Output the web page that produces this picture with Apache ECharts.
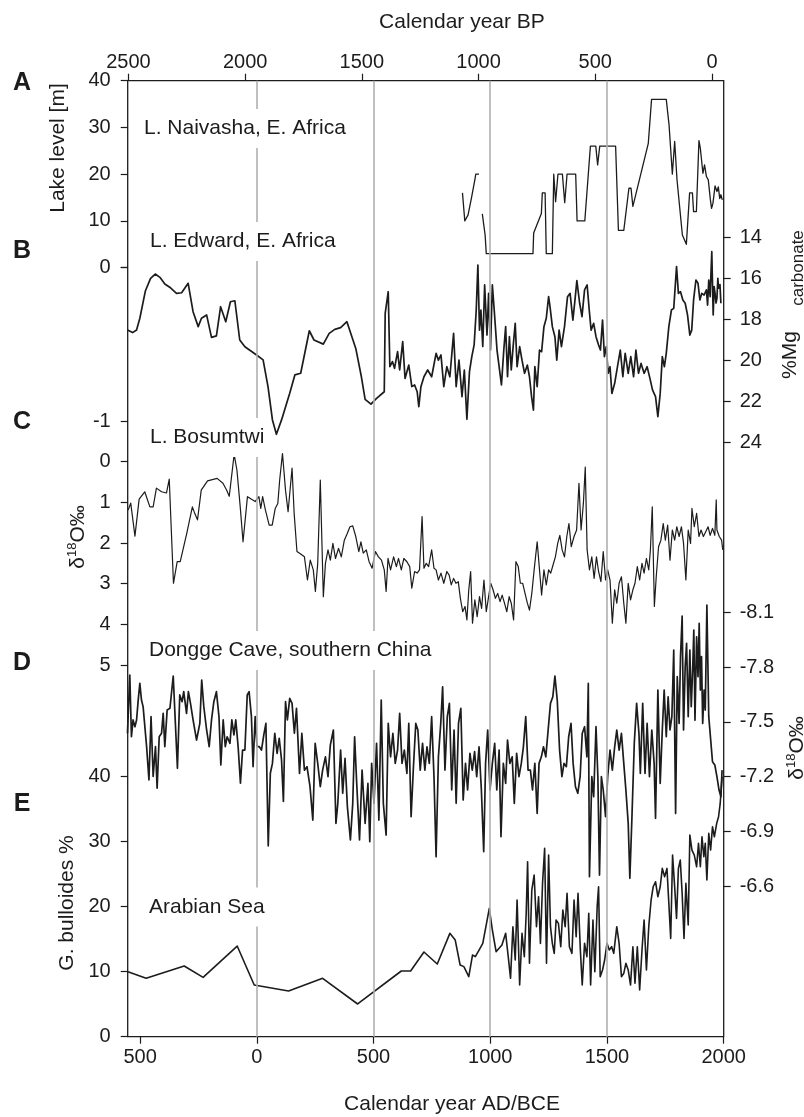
<!DOCTYPE html>
<html><head><meta charset="utf-8">
<script src="https://cdn.jsdelivr.net/npm/echarts@6/dist/echarts.min.js"></script>
<style>html,body{margin:0;padding:0;background:#fff}#c{width:804px;height:1117px}</style>
</head><body><div id="c"></div>
<script>
// ---------------- data (calendar year AD, value) ----------------
const adTicks = [-500, 0, 500, 1000, 1500, 2000];
const bpTicks = [2500, 2000, 1500, 1000, 500, 0];
const markerYears = [0, 500, 1000, 1500];

// A: L. Naivasha lake level [m]
const naivasha = [[881,16],[891,10],[905,11.3],[919,14.8],[934,18.8],[938,20],[952,20],[959,null],[966,11.5],[978,7],[983,3],[1183,3],[1186,7.4],[1219,11.6],[1223,16],[1235,16],[1240,3],[1266,3],[1272,20],[1280,14.1],[1290,20],[1309,20],[1319,13.9],[1329,20],[1366,20],[1372,10],[1405,10],[1429,26],[1452,26],[1460,22],[1469,26],[1537,26],[1549,8],[1572,8],[1594,17],[1603,17],[1611,13.1],[1677,26.6],[1691,36],[1754,36],[1766,30.5],[1780,20],[1790,27],[1800,18.8],[1823,7],[1840,5],[1848,5],[1854,16],[1866,16],[1871,12],[1883,12],[1894,27.2],[1900,25.5],[1908,25.5],[1911,20.2],[1918,22],[1926,19.5],[1934,18.8],[1943,14.5],[1948,12.7],[1954,13.8],[1963,17.5],[1971,16.3],[1977,17.3],[1983,14.8],[1988,15.6],[1994,14.5]];

// B: L. Edward %Mg carbonate
const edward = [[-554,18.51],[-532,18.64],[-515,18.51],[-501,17.94],[-477,16.60],[-455,16.00],[-435,15.79],[-415,15.95],[-394,16.27],[-373,16.43],[-344,16.73],[-322,16.70],[-294,16.24],[-273,17.62],[-251,18.35],[-237,17.94],[-215,17.78],[-194,18.87],[-173,18.80],[-155,17.38],[-133,18.11],[-113,17.14],[-94,17.09],[-73,19.00],[-51,19.33],[-1,19.73],[27,19.97],[48,21.27],[67,22.89],[84,23.59],[106,22.89],[141,21.59],[163,20.70],[188,20.62],[225,18.55],[245,19.00],[285,19.20],[310,18.68],[334,18.48],[359,18.40],[386,18.11],[424,19.41],[448,20.79],[464,21.89],[489,22.12],[513,21.84],[546,21.52],[550,17.70],[563,16.65],[570,20.30],[581,20.05],[590,20.38],[603,19.57],[612,20.46],[625,19.08],[635,20.87],[651,20.22],[664,21.27],[676,21.19],[687,21.52],[694,22.25],[703,21.27],[716,20.79],[732,20.46],[749,20.79],[768,19.65],[778,19.98],[789,19.73],[801,21.27],[814,20.30],[827,20.79],[843,18.68],[854,21.27],[866,19.98],[879,21.76],[889,20.46],[900,22.86],[911,20.54],[921,19.81],[931,19.24],[940,17.54],[947,15.35],[954,18.52],[960,17.54],[968,19.32],[976,16.32],[986,18.76],[993,16.73],[1001,19.49],[1009,16.32],[1017,17.54],[1029,19.49],[1038,20.30],[1048,21.19],[1058,19.49],[1066,18.35],[1074,20.79],[1082,18.84],[1090,20.46],[1098,19.32],[1107,18.19],[1115,20.30],[1126,19.32],[1136,19.98],[1147,20.62],[1159,20.22],[1168,20.79],[1177,21.76],[1185,22.41],[1191,20.30],[1201,21.27],[1211,19.49],[1220,19.57],[1230,18.35],[1240,17.94],[1250,16.89],[1256,17.38],[1266,18.35],[1277,18.84],[1285,19.98],[1295,18.52],[1305,19.32],[1318,18.35],[1331,16.89],[1342,16.73],[1354,18.03],[1363,17.05],[1371,16.11],[1383,17.21],[1393,17.86],[1404,16.56],[1415,16.32],[1424,17.54],[1432,18.52],[1443,18.19],[1453,18.84],[1464,19.24],[1472,19.49],[1481,18.03],[1489,19.81],[1497,19.32],[1505,20.62],[1513,20.30],[1521,21.60],[1533,21.11],[1545,20.30],[1557,19.49],[1568,20.79],[1578,19.65],[1591,20.62],[1602,19.81],[1614,20.79],[1624,19.49],[1635,20.62],[1646,20.14],[1659,20.62],[1672,20.30],[1684,20.87],[1695,21.43],[1708,21.76],[1718,22.73],[1728,21.60],[1737,19.81],[1746,20.30],[1754,19.65],[1765,18.35],[1776,17.54],[1786,17.46],[1798,15.43],[1806,16.73],[1815,16.65],[1825,17.05],[1835,17.21],[1845,17.78],[1855,18.76],[1863,18.52],[1871,17.05],[1881,16.08],[1890,16.24],[1898,17.05],[1906,16.73],[1916,16.81],[1926,16.56],[1931,17.30],[1936,16.08],[1942,16.89],[1945,15.90],[1949,14.70],[1955,17.78],[1959,16.40],[1963,16.73],[1967,17.20],[1971,16.97],[1975,16.00],[1978,16.48],[1984,16.30],[1988,17.21]];

// C: L. Bosumtwi d18O (permil)
const bosumtwi = [[-551,1.19],[-540,1.02],[-522,1.83],[-504,0.92],[-480,0.74],[-458,1.11],[-444,1.11],[-430,0.65],[-408,0.74],[-387,0.77],[-375,0.43],[-357,2.99],[-341,2.46],[-328,2.46],[-300,1.76],[-276,1.11],[-266,1.27],[-254,1.43],[-238,0.70],[-211,0.47],[-170,0.41],[-145,0.53],[-129,0.70],[-118,0.85],[-97,-0.18],[-85,0.21],[-71,1.11],[-59,1.97],[-40,0.86],[-24,0.92],[-7,0.98],[9,0.86],[17,1.15],[25,0.86],[37,1.19],[53,1.56],[66,1.56],[79,1.15],[90,1.03],[98,0.45],[110,-0.20],[123,0.70],[134,1.23],[151,0.16],[160,1.27],[172,2.21],[188,2.27],[204,2.34],[217,2.91],[229,2.42],[242,2.66],[251,3.19],[261,2.50],[272,0.45],[285,3.32],[294,2.50],[305,2.17],[315,2.42],[326,2.01],[337,2.38],[350,2.13],[362,2.34],[375,1.93],[388,1.76],[399,1.60],[411,1.58],[424,1.84],[437,2.21],[446,1.97],[456,2.25],[469,2.17],[481,2.46],[494,2.62],[508,2.21],[521,2.34],[534,2.42],[546,2.66],[554,3.19],[562,2.38],[573,2.66],[586,2.34],[598,2.58],[607,2.38],[619,2.66],[630,2.38],[643,2.46],[655,2.58],[664,3.11],[676,2.70],[687,2.74],[697,2.66],[708,1.35],[716,2.62],[726,2.50],[736,2.58],[749,2.17],[759,2.62],[768,2.66],[778,2.91],[789,2.74],[801,2.99],[814,2.70],[824,2.79],[833,3.03],[843,2.87],[853,2.99],[863,2.95],[872,3.36],[882,3.69],[892,3.56],[900,3.89],[908,3.15],[916,2.70],[924,3.97],[934,3.40],[944,3.81],[954,3.32],[963,3.61],[973,2.91],[983,3.69],[993,3.32],[1002,2.99],[1012,3.15],[1022,3.36],[1032,3.24],[1042,3.44],[1051,3.28],[1061,3.48],[1071,3.69],[1081,3.32],[1090,3.48],[1100,3.89],[1110,2.46],[1120,2.58],[1129,2.99],[1139,2.99],[1149,3.24],[1159,3.48],[1168,3.65],[1178,3.24],[1188,2.66],[1201,1.97],[1211,2.66],[1220,3.28],[1230,2.66],[1240,3.03],[1250,2.66],[1259,2.74],[1269,2.54],[1279,2.34],[1289,2.01],[1298,1.81],[1308,2.17],[1318,2.34],[1328,1.84],[1337,1.52],[1347,2.09],[1359,1.84],[1370,1.68],[1380,0.53],[1389,1.68],[1399,1.02],[1407,0.13],[1415,2.17],[1425,2.66],[1435,2.34],[1445,2.87],[1455,2.34],[1464,2.70],[1474,2.95],[1484,2.21],[1494,2.91],[1503,2.66],[1513,2.91],[1523,3.97],[1533,3.15],[1542,3.48],[1552,2.99],[1562,2.83],[1572,3.48],[1581,3.97],[1591,2.99],[1601,3.40],[1611,3.15],[1620,2.99],[1630,2.58],[1640,2.91],[1650,2.50],[1659,2.74],[1669,2.38],[1679,2.66],[1686,2.17],[1694,1.11],[1703,3.56],[1711,2.83],[1721,2.09],[1731,1.93],[1741,1.52],[1750,1.93],[1760,1.56],[1770,2.42],[1780,1.68],[1790,1.93],[1799,1.60],[1809,1.84],[1819,1.60],[1828,2.01],[1838,2.91],[1848,1.68],[1858,2.01],[1864,1.15],[1874,1.60],[1884,1.27],[1894,1.84],[1903,1.68],[1913,1.84],[1923,1.72],[1933,1.60],[1942,1.81],[1952,1.64],[1962,1.81],[1968,0.94],[1971,1.68],[1981,1.84],[1991,1.93],[1996,2.17]];

// D: Dongge Cave d18O (permil)
const dongge = [[-554,-7.437],[-544,-7.756],[-537,-7.418],[-530,-7.510],[-522,-7.473],[-515,-7.510],[-508,-7.619],[-501,-7.711],[-494,-7.619],[-487,-7.583],[-472,-7.364],[-462,-7.181],[-453,-7.528],[-444,-7.200],[-434,-7.364],[-427,-7.136],[-418,-7.418],[-408,-7.437],[-401,-7.546],[-394,-7.364],[-384,-7.565],[-372,-7.574],[-358,-7.751],[-340,-7.245],[-330,-7.647],[-320,-7.610],[-313,-7.665],[-301,-7.546],[-293,-7.665],[-284,-7.601],[-273,-7.510],[-258,-7.400],[-244,-7.491],[-236,-7.729],[-227,-7.583],[-215,-7.455],[-204,-7.364],[-194,-7.510],[-184,-7.610],[-173,-7.665],[-162,-7.528],[-154,-7.263],[-144,-7.510],[-135,-7.364],[-127,-7.418],[-115,-7.382],[-107,-7.510],[-98,-7.428],[-90,-7.510],[-80,-7.364],[-70,-7.163],[-61,-7.345],[-51,-7.345],[-41,-7.647],[-33,-7.665],[-23,-7.528],[-16,-7.254],[-7,-7.528],[1,-7.364],[10,-7.364],[20,-7.345],[30,-7.428],[39,-7.491],[49,-6.82],[58,-7.218],[67,-7.272],[77,-7.437],[87,-7.327],[96,-7.409],[106,-7.291],[114,-7.063],[123,-7.610],[131,-7.510],[141,-7.628],[151,-7.601],[161,-7.437],[170,-7.574],[183,-7.217],[193,-7.436],[204,-7.235],[215,-7.254],[228,-7.144],[240,-6.961],[250,-7.382],[261,-7.272],[272,-7.144],[282,-7.235],[294,-7.308],[305,-7.199],[315,-7.372],[328,-7.455],[339,-6.943],[347,-7.053],[359,-7.345],[368,-7.108],[378,-7.299],[388,-7.035],[401,-6.852],[411,-7.053],[419,-7.418],[428,-7.162],[440,-6.852],[451,-7.235],[464,-6.943],[476,-7.162],[484,-6.843],[492,-7.272],[502,-7.053],[513,-7.382],[523,-6.961],[533,-7.619],[542,-7.053],[554,-6.879],[563,-7.491],[573,-7.308],[583,-7.436],[593,-7.272],[603,-7.345],[612,-7.546],[622,-7.272],[632,-7.345],[643,-7.217],[651,-7.491],[661,-6.980],[671,-7.254],[681,-7.491],[690,-7.455],[700,-7.235],[710,-7.382],[720,-7.235],[729,-7.363],[739,-7.272],[749,-7.528],[759,-7.199],[768,-6.760],[778,-7.308],[788,-7.491],[796,-7.692],[806,-7.235],[816,-7.528],[825,-7.601],[835,-7.126],[845,-7.455],[854,-7.053],[864,-7.491],[874,-7.573],[884,-7.071],[894,-7.272],[903,-7.126],[913,-7.327],[923,-7.235],[933,-7.336],[942,-7.199],[952,-7.363],[962,-7.126],[972,-6.788],[980,-7.272],[989,-7.455],[999,-7.126],[1009,-7.272],[1019,-7.382],[1028,-7.126],[1038,-7.345],[1046,-6.870],[1056,-7.272],[1066,-7.162],[1074,-7.400],[1084,-7.272],[1094,-7.308],[1103,-7.053],[1113,-7.327],[1123,-7.199],[1133,-7.272],[1142,-7.363],[1152,-7.528],[1162,-7.235],[1172,-7.235],[1181,-7.126],[1191,-7.272],[1201,-6.998],[1209,-7.272],[1219,-7.308],[1228,-7.363],[1238,-7.308],[1248,-7.455],[1258,-7.601],[1268,-7.637],[1277,-7.751],[1287,-7.619],[1297,-7.345],[1307,-7.199],[1316,-7.272],[1326,-7.254],[1336,-7.418],[1346,-7.491],[1355,-7.272],[1365,-7.144],[1375,-7.108],[1385,-7.199],[1394,-7.436],[1404,-7.473],[1414,-7.308],[1420,-7.710],[1425,-6.651],[1435,-7.199],[1443,-7.089],[1453,-7.473],[1461,-7.199],[1468,-6.660],[1476,-7.199],[1484,-7.126],[1494,-6.980],[1503,-7.199],[1513,-7.345],[1523,-7.235],[1533,-7.363],[1542,-7.455],[1552,-7.345],[1562,-7.436],[1572,-7.272],[1581,-7.126],[1591,-6.943],[1598,-6.642],[1607,-6.980],[1617,-7.382],[1627,-7.601],[1637,-7.436],[1643,-7.217],[1653,-7.601],[1663,-7.217],[1672,-7.491],[1682,-7.199],[1692,-7.455],[1702,-7.272],[1708,-6.971],[1718,-7.674],[1728,-7.162],[1737,-7.455],[1745,-7.674],[1754,-7.418],[1762,-7.637],[1770,-7.455],[1778,-7.528],[1786,-7.893],[1794,-6.998],[1801,-7.747],[1809,-7.491],[1815,-7.857],[1822,-8.079],[1828,-7.455],[1835,-7.802],[1841,-7.930],[1848,-7.528],[1855,-7.893],[1861,-7.583],[1867,-7.784],[1872,-8.003],[1877,-7.509],[1884,-7.966],[1890,-7.747],[1895,-8.039],[1900,-7.674],[1905,-7.857],[1910,-7.491],[1916,-7.674],[1921,-7.564],[1928,-8.140],[1936,-7.528],[1944,-7.528],[1952,-7.281],[1962,-7.263],[1971,-7.199],[1980,-7.126],[1988,-7.089],[1993,-7.235]];

// E: Arabian Sea G. bulloides %
const arabian = [[-552,9.98],[-474,8.96],[-311,10.85],[-230,9.11],[-84,13.91],[-11,7.93],[136,7.01],[282,8.96],[432,5.02],[619,10.08],[659,10.08],[716,13.0],[773,11.15],[827,15.86],[850,14.83],[871,11.0],[887,10.75],[908,9.21],[924,12.53],[936,12.28],[952,13.30],[968,14.32],[996,19.69],[1009,16.37],[1025,13.05],[1038,13.56],[1050,14.07],[1066,15.86],[1077,12.28],[1087,8.96],[1097,16.88],[1107,11.77],[1115,20.97],[1126,7.93],[1136,15.86],[1146,12.28],[1154,18.93],[1160,26.85],[1168,11.26],[1178,22.50],[1188,24.80],[1198,16.88],[1207,21.48],[1215,14.32],[1224,23.52],[1233,28.89],[1241,11.26],[1250,27.87],[1258,16.88],[1266,14.32],[1274,12.79],[1282,17.90],[1292,17.39],[1302,13.81],[1311,19.43],[1321,16.88],[1329,21.99],[1339,13.81],[1350,12.79],[1359,20.97],[1368,15.35],[1376,21.99],[1386,13.30],[1394,7.93],[1404,14.32],[1414,12.28],[1422,18.93],[1430,7.93],[1440,17.90],[1448,9.98],[1458,19.95],[1464,23.01],[1471,9.21],[1481,10.23],[1490,11.77],[1500,14.32],[1510,13.30],[1520,13.81],[1529,12.79],[1542,16.88],[1552,14.32],[1562,9.21],[1572,9.72],[1581,11.26],[1591,10.23],[1601,7.93],[1611,13.81],[1620,8.19],[1630,13.81],[1640,7.17],[1650,13.30],[1659,17.90],[1669,10.23],[1679,16.88],[1689,20.97],[1698,23.01],[1708,23.78],[1718,21.48],[1728,23.01],[1737,25.82],[1747,24.55],[1757,25.82],[1765,20.46],[1773,15.09],[1781,27.87],[1789,23.52],[1798,18.16],[1806,25.82],[1814,27.10],[1822,21.99],[1830,15.09],[1838,23.52],[1848,17.13],[1855,30.94],[1864,28.64],[1874,27.87],[1884,26.08],[1892,29.66],[1900,26.08],[1907,30.68],[1915,27.61],[1921,29.66],[1928,24.04],[1936,31.19],[1944,28.64],[1952,32.21],[1960,30.68],[1970,32.73],[1978,33.75],[1985,35.79],[1993,39.88]];

// ---------------- layout / style ----------------
const FONT = '"Liberation Sans", Arial, Helvetica, sans-serif';
const INK = '#1c1c1c';
const L = 127.7, W = 596;
const XMIN = -553, XMAX = 2000;
const TICKFS = 20;

const chart = echarts.init(document.getElementById('c'), null, {renderer: 'canvas'});

function hiddenX(gi) {
  return {type: 'value', gridIndex: gi, min: XMIN, max: XMAX, show: false};
}
function yAx(gi, o) {
  return {
    type: 'value', gridIndex: gi, position: o.pos, min: o.min, max: o.max, interval: o.interval,
    inverse: !!o.inverse,
    axisLine: {show: false, onZero: false},
    axisTick: {show: true, length: 7, lineStyle: {color: INK, width: 1.2}},
    axisLabel: {color: INK, fontSize: TICKFS, fontFamily: FONT, margin: o.pos === 'left' ? 17 : 16,
      formatter: o.fmt || (v => String(v))},
    splitLine: {show: false}
  };
}
const lineSeries = (data, xi, yi, w) => ({
  type: 'line', data: data, xAxisIndex: xi, yAxisIndex: yi, symbol: 'none', showSymbol: false,
  clip: false, connectNulls: false, animation: false, z: 3,
  lineStyle: {color: INK, width: w, join: 'round'}
});

function txt(text, x, y, o) {
  o = o || {};
  return {
    type: 'text', x: x, y: y, rotation: o.rot || 0, z: 100,
    style: {
      text: text, x: 0, y: 0, fill: INK,
      font: (o.bold ? 'bold ' : '') + (o.fs || 21) + 'px ' + FONT,
      textAlign: o.align || 'center', textVerticalAlign: 'middle',
      backgroundColor: o.bg, padding: o.pad, rich: o.rich
    }
  };
}
const dRich = {
  a: {fontSize: 21, fontFamily: FONT, fill: INK, lineHeight: 24},
  s: {fontSize: 13, fontFamily: FONT, fill: INK, lineHeight: 14, verticalAlign: 'top'}
};
const panelLabels = [
  ['L. Naivasha, E. Africa', 140, 128.5],
  ['L. Edward, E. Africa', 146, 241.5],
  ['L. Bosumtwi', 146, 437.5],
  ['Dongge Cave, southern China', 145, 650.5],
  ['Arabian Sea', 145, 907]
];
const letters = [['A', 83], ['B', 251], ['C', 422], ['D', 663], ['E', 804]];

const graphics = [];
panelLabels.forEach(p => graphics.push(txt(p[0], p[1], p[2], {align: 'left', bg: '#fff', pad: [9, 4]})));
letters.forEach(p => graphics.push(txt(p[0], 22, p[1], {bold: true, fs: 25})));
graphics.push(txt('Calendar year BP', 462, 22));
graphics.push(txt('Calendar year AD/BCE', 452, 1104));
graphics.push(txt('Lake level [m]', 58, 148, {rot: Math.PI / 2}));
graphics.push(txt('G. bulloides %', 67, 903, {rot: Math.PI / 2}));
graphics.push(txt('{a|δ}{s|18}{a|O‰}', 78, 537, {rot: Math.PI / 2, rich: dRich}));
graphics.push(txt('{a|δ}{s|18}{a|O‰}', 797, 748, {rot: Math.PI / 2, rich: dRich}));
graphics.push(txt('%Mg', 790, 355, {rot: Math.PI / 2}));
graphics.push(txt('carbonate', 798, 268, {rot: Math.PI / 2, fs: 17}));

const option = {
  backgroundColor: '#fff',
  animation: false,
  grid: [
    {left: L, width: W, top: 80.7, height: 956, show: true, borderColor: INK, borderWidth: 1.3, backgroundColor: 'transparent'},
    {left: L, width: W, top: 80.7, height: 187},
    {left: L, width: W, top: 267.3, height: 154.4},
    {left: L, width: W, top: 237.3, height: 205.4},
    {left: L, width: W, top: 461.7, height: 203.3},
    {left: L, width: W, top: 612.3, height: 273.7},
    {left: L, width: W, top: 776, height: 260.7}
  ],
  xAxis: [
    {type: 'value', gridIndex: 0, position: 'bottom', min: XMIN, max: XMAX,
      axisLine: {show: false, onZero: false}, splitLine: {show: false},
      axisTick: {show: true, length: 7, customValues: adTicks, lineStyle: {color: INK, width: 1.2}},
      axisLabel: {customValues: adTicks, color: INK, fontSize: TICKFS, fontFamily: FONT, margin: 11,
        formatter: v => String(Math.abs(v))}},
    {type: 'value', gridIndex: 0, position: 'top', inverse: true, min: 1950 - XMAX, max: 1950 - XMIN,
      axisLine: {show: false, onZero: false}, splitLine: {show: false},
      axisTick: {show: true, length: 7, customValues: bpTicks, lineStyle: {color: INK, width: 1.2}},
      axisLabel: {customValues: bpTicks, color: INK, fontSize: TICKFS, fontFamily: FONT, margin: 8,
        formatter: v => String(v)}},
    hiddenX(1), hiddenX(2), hiddenX(3), hiddenX(4), hiddenX(5), hiddenX(6)
  ],
  yAxis: [
    {type: 'value', gridIndex: 0, min: 0, max: 1, show: false},
    yAx(1, {pos: 'left', min: 0, max: 40, interval: 10, fmt: v => (v === 0 ? '' : String(v))}),
    yAx(2, {pos: 'left', min: -1, max: 0, interval: 1}),
    yAx(3, {pos: 'right', min: 14, max: 24, interval: 2, inverse: true}),
    yAx(4, {pos: 'left', min: 0, max: 5, interval: 1, inverse: true}),
    yAx(5, {pos: 'right', min: -8.1, max: -6.6, interval: 0.3, inverse: true, fmt: v => v.toFixed(1)}),
    yAx(6, {pos: 'left', min: 0, max: 40, interval: 10})
  ],
  graphic: graphics,
  series: [
    {type: 'line', xAxisIndex: 0, yAxisIndex: 0, data: [[0, 0.5]], symbol: 'none', z: 1,
      lineStyle: {opacity: 0}, animation: false,
      markLine: {silent: true, symbol: ['none', 'none'], label: {show: false}, animation: false,
        lineStyle: {color: '#b0b0b0', width: 1.6, type: 'solid'},
        data: markerYears.map(v => ({xAxis: v}))}},
    lineSeries(naivasha, 2, 1, 1.3),
    lineSeries(edward, 4, 3, 1.7),
    lineSeries(bosumtwi, 5, 4, 1.2),
    lineSeries(dongge, 6, 5, 1.7),
    lineSeries(arabian, 7, 6, 1.6)
  ]
};
chart.setOption(option);
</script>
</body></html>
